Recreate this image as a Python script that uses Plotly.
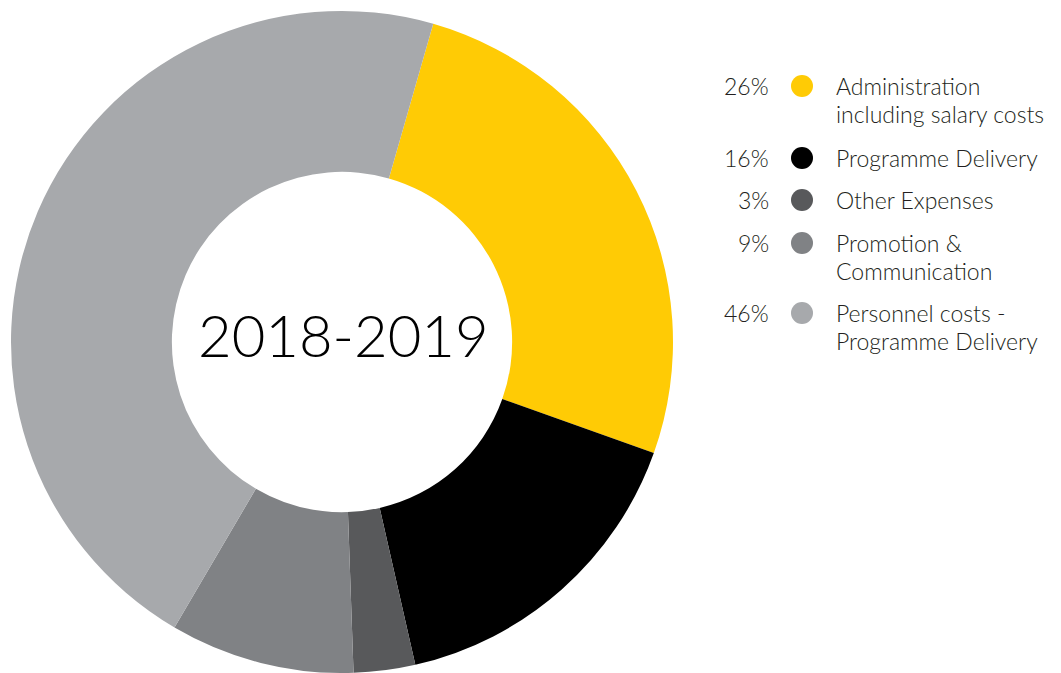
import plotly.graph_objects as go

# Budget split for 2018-2019
categories = [
    "Administration<br>including salary costs",
    "Programme Delivery",
    "Other Expenses",
    "Promotion &<br>Communication",
    "Personnel costs -<br>Programme Delivery",
]
values = [26, 16, 3, 9, 46]
colors = ["#FFCB05", "#000000", "#58595B", "#808285", "#A7A9AC"]
center_label = "2018-2019"

W, H = 1061, 673
FONT = "Lato"
TEXT_COLOR = "#231F20"


def px(x):
    return x / W


def py(y):
    return 1 - y / H


fig = go.Figure(
    go.Pie(
        labels=categories,
        values=values,
        marker=dict(colors=colors, line=dict(width=0)),
        hole=0.514,
        sort=False,
        direction="clockwise",
        rotation=16,
        textinfo="none",
        hoverinfo="label+percent",
        showlegend=False,
        domain=dict(x=[px(11), px(673)], y=[0, 662 / H]),
    )
)

annotations = [
    dict(
        text=center_label, x=px(343), y=py(334), xref="paper", yref="paper",
        showarrow=False, xanchor="center", yanchor="middle",
        font=dict(family=FONT, size=58, color="#000000", weight=300),
    )
]
shapes = []

# Custom legend: value, dot, wrapped label
legend_rows = [86, 158, 200, 243, 313]
line_gap = 28
dot_x, dot_r = 802, 11
for cat, val, col, ry in zip(categories, values, colors, legend_rows):
    annotations.append(dict(
        text=f"{val}%", x=px(771), y=py(ry), xref="paper", yref="paper",
        showarrow=False, xanchor="right", yanchor="middle",
        font=dict(family=FONT, size=23, color=TEXT_COLOR, weight=300),
    ))
    for i, line in enumerate(cat.split("<br>")):
        annotations.append(dict(
            text=line, x=px(834), y=py(ry + i * line_gap), xref="paper", yref="paper",
            showarrow=False, xanchor="left", yanchor="middle",
            font=dict(family=FONT, size=23, color=TEXT_COLOR, weight=300),
        ))
    shapes.append(dict(
        type="circle", xref="paper", yref="paper",
        x0=px(dot_x - dot_r), x1=px(dot_x + dot_r),
        y0=py(ry + dot_r), y1=py(ry - dot_r),
        fillcolor=col, line=dict(width=0),
    ))

fig.update_layout(
    width=W, height=H,
    margin=dict(l=0, r=0, t=0, b=0),
    paper_bgcolor="white", plot_bgcolor="white",
    annotations=annotations, shapes=shapes,
)

fig.write_html("out.html")
